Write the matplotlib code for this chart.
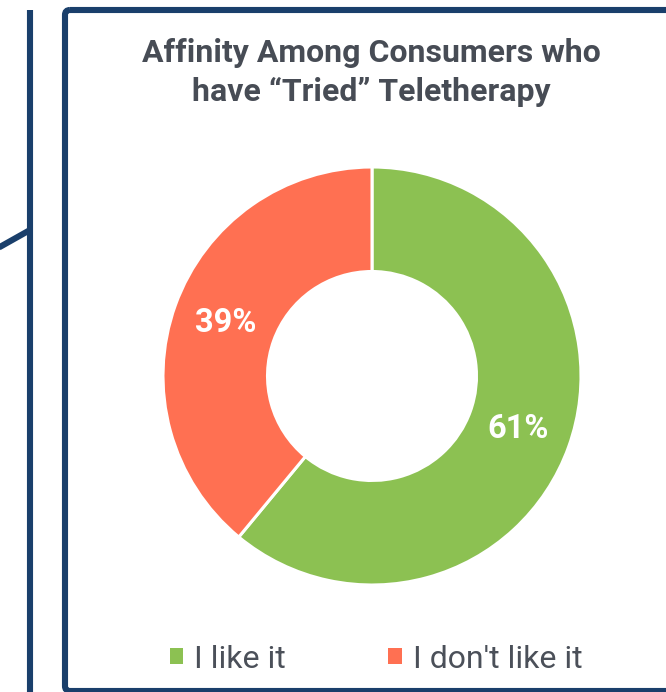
import matplotlib.pyplot as plt
from matplotlib.patches import FancyBboxPatch, Patch
from matplotlib.lines import Line2D

# share of consumers who have tried teletherapy
labels = ["I like it", "I don't like it"]
shares = [61, 39]
colors = ["#8CC152", "#FF7052"]
title_lines = ["Affinity Among Consumers who", "have \u201cTried\u201d Teletherapy"]

plt.rcParams["font.family"] = ["Roboto", "DejaVu Sans"]

W, H = 666, 692
fig = plt.figure(figsize=(W / 100, H / 100), dpi=100)

# overlay in pixel units for the slide frame
bg = fig.add_axes([0, 0, 1, 1])
bg.set_xlim(0, W)
bg.set_ylim(H, 0)
bg.axis("off")
navy = "#1A3F6B"
frame = FancyBboxPatch((65, 10), 700, 681, boxstyle="round,pad=0,rounding_size=5",
                       fill=False, edgecolor=navy, linewidth=4.4)
bg.add_patch(frame)
bg.add_line(Line2D([30, 30], [10, 700], color=navy, linewidth=4.4, solid_capstyle="butt"))
bg.add_line(Line2D([-2, 30], [248, 230], color=navy, linewidth=4.4, solid_capstyle="butt"))

# donut
cx, cy, r = 372, 376, 209
ax = fig.add_axes([(cx - r) / W, (H - cy - r) / H, 2 * r / W, 2 * r / H])
wedges, _, autotexts = ax.pie(
    shares, colors=colors, startangle=90, counterclock=False, radius=1,
    autopct=lambda p: f"{p:.0f}%", pctdistance=0.745,
    wedgeprops=dict(width=0.5, edgecolor="white", linewidth=2.2),
    textprops=dict(color="white", fontsize=23.5, fontweight="bold"),
)
ax.set_xlim(-1, 1)
ax.set_ylim(-1, 1)
ax.set_aspect("equal")
ax.axis("off")

title_color = "#474C55"
fig.text(371 / W, 1 - 62 / H, title_lines[0], ha="center", va="baseline",
         fontsize=23, fontweight="bold", color=title_color)
fig.text(371 / W, 1 - 101 / H, title_lines[1], ha="center", va="baseline",
         fontsize=23, fontweight="bold", color=title_color)

handles = [Patch(facecolor=c, edgecolor="none") for c in colors]
fig.legend(handles, labels, loc="center", bbox_to_anchor=(376 / W, 1 - 659 / H),
           ncol=2, frameon=False, fontsize=23, labelcolor="#4B5059",
           handlelength=0.42, handleheight=0.42, handletextpad=0.35,
           columnspacing=3.2, borderpad=0)

fig.savefig("out.png", dpi=100)
